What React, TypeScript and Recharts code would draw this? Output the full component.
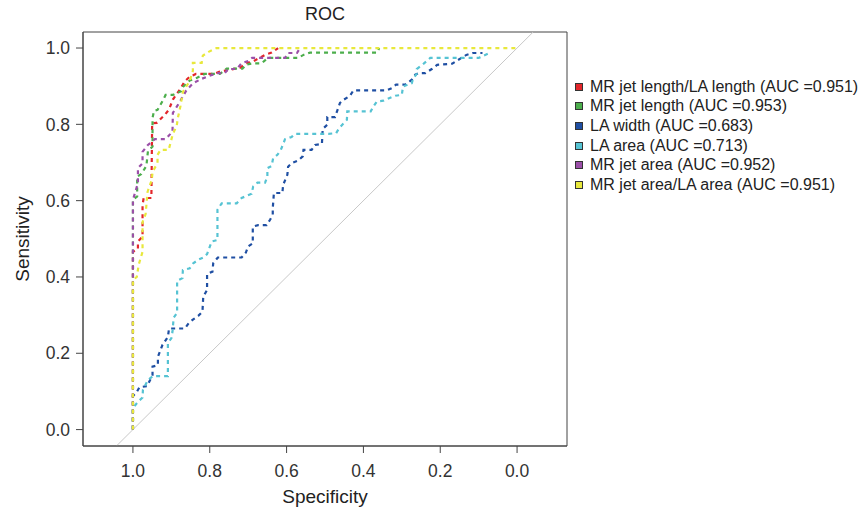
import React from 'react';
import { LineChart, Line, XAxis, YAxis, ReferenceArea, Label } from 'recharts';

const specTicks = [0, 0.2, 0.4, 0.6, 0.8, 1];
const sensTicks = [0, 0.2, 0.4, 0.6, 0.8, 1];

const seriesNames = [
  'MR jet length/LA length (AUC =0.951)',
  'MR jet length (AUC =0.953)',
  'LA width (AUC =0.683)',
  'LA area (AUC =0.713)',
  'MR jet area (AUC =0.952)',
  'MR jet area/LA area (AUC =0.951)',
];
const seriesColors = ['#e3262b', '#4cae4c', '#1f4fa3', '#56c3d3', '#9b4fa8', '#e8e83c'];

// [specificity, sensitivity] — visible part of each curve
const redCurve: [number, number][] = [
  [1, 0], [1, 0.466], [0.987, 0.474], [0.987, 0.493], [0.975, 0.506], [0.975, 0.589], [0.972, 0.607],
  [0.952, 0.607], [0.95, 0.803], [0.938, 0.804], [0.917, 0.825], [0.906, 0.839], [0.896, 0.865],
  [0.878, 0.891], [0.865, 0.913], [0.852, 0.925], [0.836, 0.932], [0.791, 0.932], [0.774, 0.938],
  [0.722, 0.948], [0.704, 0.96], [0.687, 0.965], [0.656, 0.982], [0.639, 0.988], [0.622, 1],
];
const greenCurve: [number, number][] = [
  [1, 0], [1, 0.602], [0.989, 0.611], [0.989, 0.663], [0.978, 0.67], [0.965, 0.691], [0.961, 0.729],
  [0.949, 0.742], [0.949, 0.817], [0.945, 0.835], [0.936, 0.838], [0.923, 0.861], [0.915, 0.877],
  [0.896, 0.877], [0.874, 0.887], [0.87, 0.898], [0.852, 0.915], [0.833, 0.922], [0.813, 0.932],
  [0.774, 0.932], [0.756, 0.946], [0.715, 0.946], [0.704, 0.957], [0.687, 0.96], [0.665, 0.96],
  [0.649, 0.974], [0.57, 0.974], [0.556, 0.982], [0.539, 0.988], [0.364, 0.988], [0.359, 1],
];
const blueCurve: [number, number][] = [
  [1, 0], [1, 0.088], [0.991, 0.097], [0.983, 0.111], [0.963, 0.114], [0.949, 0.143], [0.949, 0.165],
  [0.935, 0.169], [0.935, 0.191], [0.923, 0.222], [0.909, 0.243], [0.906, 0.265], [0.865, 0.265],
  [0.854, 0.28], [0.843, 0.289], [0.83, 0.298], [0.819, 0.309], [0.817, 0.348], [0.807, 0.366],
  [0.807, 0.408], [0.793, 0.414], [0.791, 0.436], [0.779, 0.451], [0.717, 0.451], [0.706, 0.464],
  [0.7, 0.48], [0.688, 0.488], [0.688, 0.532], [0.674, 0.536], [0.652, 0.536], [0.643, 0.55],
  [0.636, 0.563], [0.636, 0.58], [0.633, 0.62], [0.611, 0.62], [0.609, 0.641], [0.598, 0.668],
  [0.596, 0.689], [0.587, 0.698], [0.57, 0.705], [0.558, 0.716], [0.556, 0.733], [0.535, 0.733],
  [0.526, 0.746], [0.508, 0.749], [0.506, 0.788], [0.494, 0.799], [0.494, 0.819], [0.474, 0.819],
  [0.468, 0.836], [0.461, 0.856], [0.452, 0.864], [0.435, 0.875], [0.426, 0.889], [0.339, 0.889],
  [0.326, 0.895], [0.315, 0.904], [0.291, 0.904], [0.274, 0.917], [0.265, 0.93], [0.256, 0.934],
  [0.239, 0.934], [0.222, 0.945], [0.208, 0.956], [0.169, 0.959], [0.156, 0.967], [0.132, 0.982],
  [0.115, 0.987], [0.09, 0.987],
];
const cyanCurve: [number, number][] = [
  [1, 0], [1, 0.056], [0.987, 0.073], [0.975, 0.084], [0.974, 0.104], [0.961, 0.13], [0.948, 0.14],
  [0.909, 0.14], [0.909, 0.228], [0.9, 0.239], [0.897, 0.257], [0.894, 0.293], [0.885, 0.306],
  [0.885, 0.39], [0.871, 0.397], [0.87, 0.418], [0.852, 0.423], [0.843, 0.436], [0.83, 0.445],
  [0.817, 0.451], [0.807, 0.46], [0.795, 0.493], [0.78, 0.497], [0.78, 0.576], [0.769, 0.593],
  [0.73, 0.593], [0.717, 0.607], [0.691, 0.618], [0.687, 0.637], [0.676, 0.647], [0.656, 0.647],
  [0.65, 0.663], [0.65, 0.685], [0.639, 0.691], [0.635, 0.711], [0.624, 0.72], [0.615, 0.733],
  [0.604, 0.761], [0.587, 0.767], [0.578, 0.775], [0.491, 0.775], [0.471, 0.777], [0.463, 0.79],
  [0.443, 0.812], [0.442, 0.834], [0.381, 0.834], [0.374, 0.847], [0.365, 0.86], [0.348, 0.862],
  [0.317, 0.875], [0.3, 0.877], [0.297, 0.899], [0.274, 0.908], [0.271, 0.919], [0.261, 0.933],
  [0.261, 0.945], [0.243, 0.959], [0.226, 0.974], [0.1, 0.974], [0.076, 0.985], [0.069, 0.988],
];
const purpleCurve: [number, number][] = [
  [1, 0], [1, 0.602], [0.987, 0.646], [0.987, 0.685], [0.975, 0.698], [0.975, 0.728], [0.961, 0.746],
  [0.943, 0.761], [0.915, 0.761], [0.897, 0.781], [0.896, 0.83], [0.878, 0.859], [0.861, 0.889],
  [0.843, 0.908], [0.822, 0.919], [0.804, 0.926], [0.782, 0.934], [0.761, 0.934], [0.752, 0.945],
  [0.73, 0.945], [0.717, 0.96], [0.7, 0.966], [0.69, 0.974], [0.604, 0.974], [0.596, 0.987],
  [0.573, 0.987], [0.565, 1],
];
const yellowCurve: [number, number][] = [
  [1, 0], [1, 0.392], [0.99, 0.4], [0.985, 0.432], [0.975, 0.466], [0.975, 0.544], [0.967, 0.565],
  [0.962, 0.623], [0.951, 0.654], [0.949, 0.675], [0.936, 0.699], [0.936, 0.72], [0.928, 0.733],
  [0.907, 0.733], [0.896, 0.775], [0.886, 0.796], [0.883, 0.817], [0.876, 0.849], [0.87, 0.885],
  [0.852, 0.914], [0.844, 0.94], [0.844, 0.961], [0.821, 0.961], [0.818, 0.98], [0.803, 0.99],
  [0.782, 1], [0, 1],
];
const chanceLine: [number, number][] = [[1.043, -0.043], [-0.042, 1.042]];

const curves = [redCurve, greenCurve, blueCurve, cyanCurve, purpleCurve, yellowCurve];

const xDomain: [number, number] = [-0.13, 1.13];
const yDomain: [number, number] = [-0.043, 1.042];

const toRows = (pts: [number, number][]) => pts.map(([spec, sens]) => ({ spec, sens }));

const FONT = '"Liberation Sans", Arial, Helvetica, sans-serif';

export default function App() {
  return (
    <div style={{ position: 'absolute', left: 0, top: 0, width: 860, height: 507, background: '#fff', fontFamily: FONT }}>
      <div style={{ position: 'absolute', left: 83, top: 4, width: 484, textAlign: 'center', fontSize: 18, color: '#222' }}>ROC</div>
      <LineChart width={860} height={507} margin={{ top: 32, right: 293, bottom: 21, left: 23 }}>
        <XAxis
          type="number"
          dataKey="spec"
          domain={xDomain}
          reversed
          allowDataOverflow
          ticks={specTicks}
          tickFormatter={(v: number) => v.toFixed(1)}
          tickSize={7}
          tickMargin={12}
          height={40}
          stroke="#444"
          tick={{ fill: '#333', fontSize: 17.5, fontFamily: FONT }}
        >
          <Label value="Specificity" position="insideBottom" offset={-17} style={{ fill: '#222', fontSize: 19, fontFamily: FONT }} />
        </XAxis>
        <YAxis
          type="number"
          dataKey="sens"
          domain={yDomain}
          allowDataOverflow
          ticks={sensTicks}
          tickFormatter={(v: number) => v.toFixed(1)}
          tickSize={7}
          tickMargin={6}
          width={60}
          stroke="#444"
          tick={{ fill: '#333', fontSize: 17.5, fontFamily: FONT }}
        >
          <Label value="Sensitivity" angle={-90} position="insideLeft" offset={-1} style={{ fill: '#222', fontSize: 19, fontFamily: FONT, textAnchor: 'middle' }} />
        </YAxis>
        <ReferenceArea x1={xDomain[0]} x2={xDomain[1]} y1={yDomain[0]} y2={yDomain[1]} fill="none" stroke="#444" strokeWidth={1} ifOverflow="visible" />
        <Line data={toRows(chanceLine)} dataKey="sens" stroke="#c8c8c8" strokeWidth={1} dot={false} activeDot={false} isAnimationActive={false} />
        {curves.map((c, i) => (
          <Line
            key={i}
            data={toRows(c)}
            dataKey="sens"
            name={seriesNames[i]}
            stroke={seriesColors[i]}
            strokeWidth={2.2}
            strokeDasharray="4 4"
            dot={false}
            activeDot={false}
            isAnimationActive={false}
          />
        ))}
      </LineChart>
      <div style={{ position: 'absolute', left: 575, top: 77 }}>
        {seriesNames.map((n, i) => (
          <div key={n} style={{ display: 'flex', alignItems: 'center', height: 19.6, fontSize: 16, color: '#222', whiteSpace: 'nowrap' }}>
            <span style={{ display: 'inline-block', width: 6, height: 6, background: seriesColors[i], border: '1px solid #333', marginRight: 7 }} />
            {n}
          </div>
        ))}
      </div>
    </div>
  );
}
